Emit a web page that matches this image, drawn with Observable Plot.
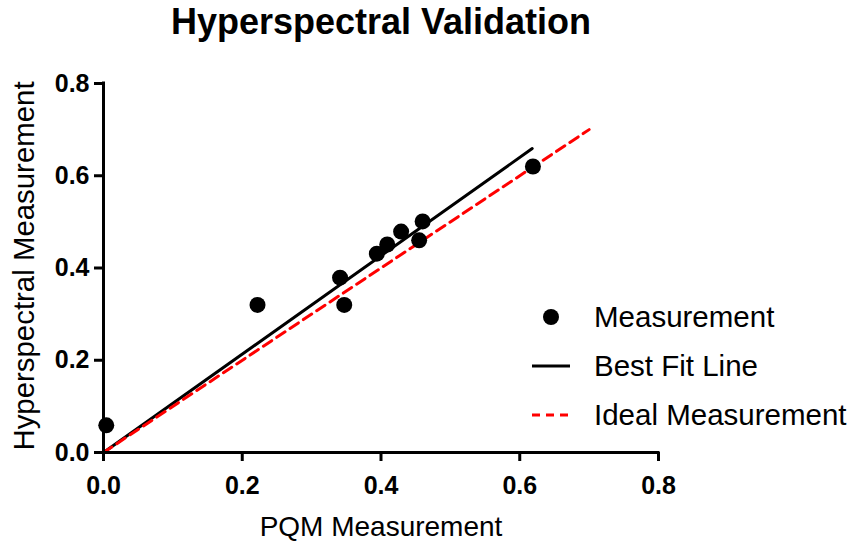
<!DOCTYPE html>
<html>
<head>
<meta charset="utf-8">
<script src="https://cdn.jsdelivr.net/npm/d3@7"></script>
<script src="https://cdn.jsdelivr.net/npm/@observablehq/plot@0.6"></script>
<style>
  body { margin: 0; background: #fff; }
  #wrap { position: relative; width: 855px; height: 544px; font-family: "Liberation Sans", Arial, sans-serif; }
  #title { position: absolute; left: 0; width: 762px; top: 1px; text-align: center; font-weight: bold; font-size: 36px; color: #000; }
  #legend { position: absolute; left: 528px; top: 292px; }
  .item { display: flex; align-items: center; height: 49px; font-size: 29.5px; color: #000; }
  .item svg { margin-right: 21px; }
</style>
</head>
<body>
<div id="wrap">
  <div id="title"></div>
  <div id="chart"></div>
  <div id="legend"></div>
</div>
<script>
const titleText = "Hyperspectral Validation";
const xLabel = "PQM Measurement";
const yLabel = "Hyperspectral Measurement";
const tickValues = [0, 0.2, 0.4, 0.6, 0.8];

// Measurement points
const pqm = [0.004, 0.222, 0.341, 0.347, 0.394, 0.409, 0.429, 0.455, 0.460, 0.619];
const hyper = [0.059, 0.320, 0.379, 0.320, 0.431, 0.451, 0.479, 0.460, 0.501, 0.620];

// Best fit line endpoints
const fitX = [0, 0.618];
const fitY = [0, 0.659];

// Ideal measurement line endpoints
const idealX = [0, 0.7];
const idealY = [0, 0.7];

const legendNames = ["Measurement", "Best Fit Line", "Ideal Measurement"];

const points = pqm.map((x, i) => ({x, y: hyper[i]}));
const fit = fitX.map((x, i) => ({x, y: fitY[i]}));
const ideal = idealX.map((x, i) => ({x, y: idealY[i]}));

document.getElementById("title").textContent = titleText;

const chart = Plot.plot({
  width: 855,
  height: 544,
  marginLeft: 103,
  marginRight: 197,
  marginTop: 83,
  marginBottom: 92,
  style: {fontFamily: "Liberation Sans, Arial, sans-serif", color: "#000", background: "#fff", overflow: "visible"},
  x: {domain: [0, 0.8]},
  y: {domain: [0, 0.8]},
  marks: [
    Plot.line(fit, {x: "x", y: "y", stroke: "#000", strokeWidth: 3}),
    Plot.line(ideal, {x: "x", y: "y", stroke: "#ff0000", strokeWidth: 3, strokeDasharray: "10,6"}),
    Plot.ruleY([0], {stroke: "#000", strokeWidth: 3, strokeLinecap: "square"}),
    Plot.ruleX([0], {stroke: "#000", strokeWidth: 3, strokeLinecap: "square"}),
    Plot.axisX({ticks: tickValues, tickFormat: d => d.toFixed(1), tickSize: 9, tickPadding: 15, strokeWidth: 3, fontSize: 25, fontWeight: "bold", label: null}),
    Plot.axisY({ticks: tickValues, tickFormat: d => d.toFixed(1), tickSize: 9, tickPadding: 5, strokeWidth: 3, fontSize: 25, fontWeight: "bold", label: null}),
    Plot.dot(points, {x: "x", y: "y", r: 8, fill: "#000", stroke: "none"}),
    Plot.text([xLabel], {frameAnchor: "bottom", dy: 75, fontSize: 28, lineAnchor: "middle", fill: "#000"}),
    Plot.text([yLabel], {frameAnchor: "left", dx: -79, dy: -2, rotate: -90, textAnchor: "middle", fontSize: 29.4, lineAnchor: "middle", fill: "#000"})
  ]
});
document.getElementById("chart").appendChild(chart);

// Legend
const legend = document.getElementById("legend");
const swatches = [
  `<svg width="45" height="20"><circle cx="23" cy="10" r="8" fill="#000"/></svg>`,
  `<svg width="45" height="20"><line x1="4" x2="42" y1="10" y2="10" stroke="#000" stroke-width="3"/></svg>`,
  `<svg width="45" height="20"><line x1="4" x2="42" y1="10" y2="10" stroke="#ff0000" stroke-width="3" stroke-dasharray="8,6"/></svg>`
];
legendNames.forEach((name, i) => {
  const div = document.createElement("div");
  div.className = "item";
  div.innerHTML = swatches[i] + `<span>${name}</span>`;
  legend.appendChild(div);
});
</script>
</body>
</html>
